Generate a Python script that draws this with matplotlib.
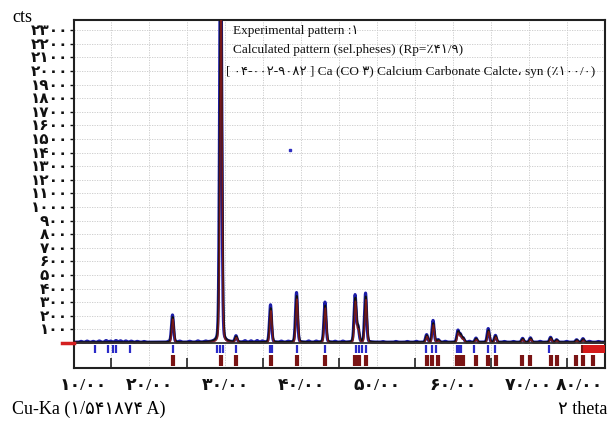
import numpy as np
import matplotlib
matplotlib.use("Agg")
import matplotlib.pyplot as plt
import matplotlib.transforms as mtransforms
from matplotlib.ticker import FixedLocator

# ---------------- data ----------------
# calcite reflections (2theta, experimental height, calculated height)
peak_pos   = [23.05, 29.40, 31.42, 35.97, 39.40, 43.15, 47.12, 47.50, 48.50,
              56.55, 57.40, 58.08, 60.67, 61.00, 61.36, 63.06, 64.67, 65.62,
              69.20, 70.23, 72.89, 73.68, 76.32, 77.16]
peak_exp   = [200, 3200, 45, 275, 365, 295, 345, 110, 360,
              55, 160, 18, 85, 55, 30, 30, 100, 50,
              28, 32, 36, 18, 18, 26]
peak_calc  = [185, 2700, 40, 250, 340, 270, 320, 100, 335,
              50, 140, 15, 75, 50, 28, 26, 88, 45,
              25, 28, 32, 16, 16, 22]
# small background features of experimental pattern (position, counts)
bg_pos = [11.0, 11.8, 12.6, 13.4, 14.3, 14.9, 15.6, 16.2, 16.9, 17.6, 18.4, 19.3,
          22.6, 24.0, 25.3, 26.4, 27.4, 32.6, 33.4, 34.2, 34.9, 37.4, 38.3,
          41.0, 42.0, 44.5, 45.5, 50.8, 52.5, 54.0, 55.2, 59.0, 62.2,
          66.8, 68.0, 71.5, 75.0, 78.0, 79.2]
bg_h   = [6, 8, 6, 9, 12, 8, 12, 10, 9, 8, 6, 5,
          5, 7, 6, 8, 6, 10, 9, 11, 8, 7, 6,
          8, 7, 6, 7, 4, 5, 5, 6, 6, 6,
          5, 5, 6, 6, 6, 5]
bg_level = 6
outlier_x, outlier_y = [38.5], [1420]

# reference pattern sticks
ref_blue = [12.8, 14.5, 15.2, 15.6, 17.4, 23.1, 28.9, 29.3, 29.7, 31.4, 35.9, 36.2,
            39.4, 43.2, 47.2, 47.6, 48.0, 48.5, 56.5, 57.2, 57.8, 60.5, 60.8, 61.1,
            62.8, 64.7, 65.6, 72.7]
ref_red  = [23.1, 29.4, 31.4, 36.0, 39.4, 43.2, 47.1, 47.4, 47.6, 48.5, 56.6, 57.3, 58.1,
            60.5, 60.75, 61.0, 61.3, 63.1, 64.7, 65.7, 69.1, 70.2, 72.9, 73.7,
            76.2, 77.1, 78.5]
ref_band = (77.0, 80.0)

y_ticks = list(range(100, 2400, 100))
x_ticks = [10, 20, 30, 40, 50, 60, 70, 80]
fa = str.maketrans("0123456789", "۰۱۲۳۴۵۶۷۸۹")
y_labels = [str(v).translate(fa) for v in y_ticks]
x_labels = [(str(v) + "/00").translate(fa) for v in x_ticks]

legend_lines = ["Experimental pattern :۱",
                "Calculated pattern (sel.pheses) (Rp=٪۴۱/۹)",
                "[ ۰۴-۰۰۲-۹۰۸۲ ] Ca (CO ۳) Calcium Carbonate Calcte، syn (٪۱۰۰/۰)"]

FAM = ["Liberation Serif", "DejaVu Sans"]
plt.rcParams["font.family"] = FAM

# ---------------- profiles ----------------
x = np.arange(10.0, 80.0, 0.01)


def pv(x, p, h, w=0.32, eta=0.15):
    d2 = (x - p) ** 2 / w ** 2
    return h * (eta / (1 + 4 * d2) + (1 - eta) * np.exp(-4 * np.log(2) * d2))


exp_y = np.full_like(x, bg_level, dtype=float)
calc_y = np.full_like(x, bg_level, dtype=float)
phase_y = np.zeros_like(x)
for p, he, hc in zip(peak_pos, peak_exp, peak_calc):
    exp_y += pv(x, p, he)
    calc_y += pv(x, p + 0.03, hc, w=0.36)
    phase_y += pv(x, p + 0.05, hc * 0.95, w=0.30)
for p, h in zip(bg_pos, bg_h):
    exp_y += pv(x, p, h, w=0.35, eta=0)

# ---------------- figure ----------------
fig = plt.figure(figsize=(6.08, 4.23), dpi=100)
L, R, T, B = 73.5, 604.5, 20, 368
ax = fig.add_axes([L / 608, 1 - B / 423, (R - L) / 608, (B - T) / 423])
ax.set_xlim(10, 80)
ax.set_ylim(-184, 2375)

# grid
for gx in range(15, 80, 5):
    ax.axvline(gx, color="#c8c8c8", lw=0.6, ls=(0, (1.5, 1.5)), zorder=0)
for gy in y_ticks:
    ax.axhline(gy, color="#c8c8c8", lw=0.6, ls=(0, (1.5, 1.5)), zorder=0)

# patterns
ax.plot(x, exp_y, color="#1c1ca8", lw=2.2, zorder=2)
ax.plot(x, calc_y, color="#101010", lw=1.3, zorder=3)
ax.plot(x, phase_y, color="#8b1a1a", lw=1.0, alpha=0.85, zorder=4)
ax.plot(outlier_x, outlier_y, "s", color="#3030c0", ms=1.5, zorder=3)

# zero line and offset marker
ax.axhline(0, color="#303030", lw=1.3, zorder=5)
ax.plot([8.45, 10], [0, 0], color="#d42020", lw=2.5, clip_on=False, zorder=6)

# reference sticks
ax.vlines(ref_blue, -74, -15, color="#2a2ac8", lw=1.6, zorder=5)
ax.vlines(ref_red, -168, -88, color="#7a1414", lw=3.0, zorder=5)
ax.fill_between(ref_band, -74, -15, color="#d41a1a", lw=0, zorder=5)
ax.vlines([ref_band[0]], -74, -15, color="#7a1414", lw=1.5, zorder=6)

# axes styling
for s in ax.spines.values():
    s.set_linewidth(1.5)
    s.set_color("#202020")
ax.yaxis.set_major_locator(FixedLocator(y_ticks))
ax.set_yticklabels(y_labels, fontsize=11, family=FAM, fontweight="bold")
ax.tick_params(axis="y", direction="out", length=3, width=1, pad=1, colors="#111")
ax.xaxis.set_major_locator(FixedLocator(x_ticks))
ax.set_xticklabels(x_labels, fontsize=12.5, family=FAM, fontweight="bold")
ax.tick_params(axis="x", which="major", length=0, pad=7, colors="#111")
ax.xaxis.set_minor_locator(FixedLocator(list(range(15, 80, 10))))
ax.tick_params(axis="x", which="minor", direction="in", length=7, width=1.2, colors="#222")
xl = ax.get_xticklabels()
xl[0].set_transform(xl[0].get_transform() +
                    mtransforms.ScaledTranslation(10 / 100, 0, fig.dpi_scale_trans))
xl[-1].set_transform(xl[-1].get_transform() +
                     mtransforms.ScaledTranslation(-25 / 100, 0, fig.dpi_scale_trans))

# texts
fig.text(12 / 608, 1 - 18 / 423, "cts", fontsize=13, ha="left", va="center", family=FAM)
fig.text(12 / 608, 1 - 409 / 423, "Cu-Ka (۱/۵۴۱۸۷۴ A)", fontsize=13, ha="left",
         va="center", family=FAM)
fig.text(607 / 608, 1 - 409 / 423, "۲ theta", fontsize=13, ha="right", va="center",
         family=FAM)
for i, (line, yy) in enumerate(zip(legend_lines, [31, 50, 72])):
    fig.text((233 if i < 2 else 226) / 608, 1 - yy / 423, line, fontsize=9.5,
             ha="left", va="center", family=FAM, color="#111")

fig.savefig("out.png", dpi=100)
